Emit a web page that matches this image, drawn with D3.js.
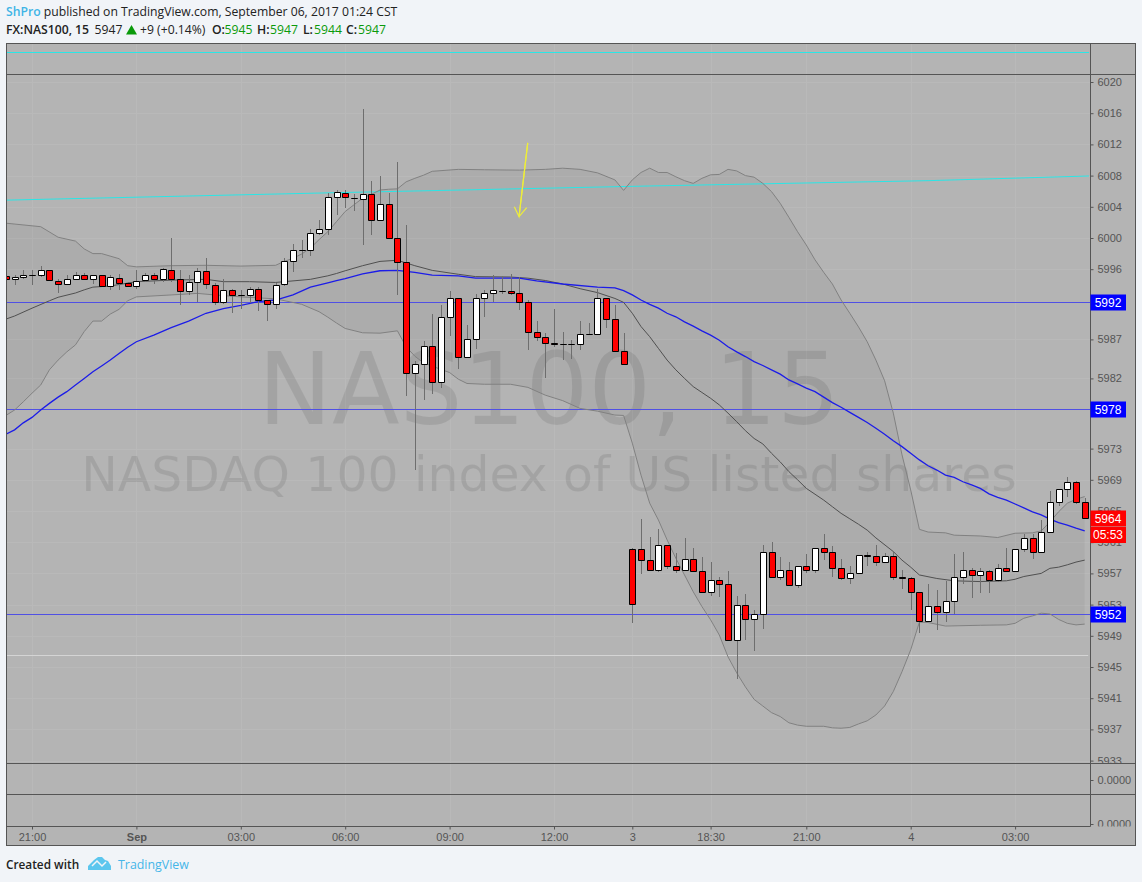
<html lang="en">
<head>
<meta http-equiv="Content-Type" content="text/html; charset=UTF-8">
<title>NAS100, 15</title>
<script type="text/javascript" src="https://cdnjs.cloudflare.com/ajax/libs/d3/7.8.5/d3.min.js"></script>
<style type="text/css">
html, body { margin: 0; padding: 0; background: #f1f4f8; overflow: hidden; }
svg { display: block; }
.tick text { font-family: "Liberation Sans", Arial, sans-serif; font-size: 11px; fill: #555; }
.tick line { stroke: #555; }
</style>
</head>
<body>

<script type="text/javascript">

var opens = [5995.1,5994.7,5995.0,5995.3,5995.2,5995.9,5994.5,5994.1,5994.8,5995.2,
5994.7,5995.2,5993.8,5994.9,5994.2,5993.8,5994.6,5995.3,5994.8,5995.9,
5994.8,5993.2,5994.3,5995.8,5994.0,5991.8,5993.3,5992.7,5992.7,5993.5,
5992.0,5991.6,5994.1,5997.0,5998.5,5998.5,6000.6,6001.2,6005.2,6005.8,
6005.1,6005.0,6005.7,6002.3,6004.4,6000.0,5996.9,5982.7,5983.8,5986.2,
5981.5,5989.9,5992.3,5984.7,5987.1,5992.3,5992.9,5993.2,5993.2,5992.9,
5991.8,5987.9,5987.3,5986.6,5986.4,5986.4,5986.4,5987.7,5987.7,5992.3,
5989.6,5985.5,5960.1,5960.1,5958.7,5957.5,5960.6,5958.0,5957.4,5958.8,
5957.3,5954.6,5956.1,5955.6,5948.5,5953.0,5951.1,5951.75,5959.7,5956.6,
5957.4,5955.5,5958.0,5957.5,5960.2,5959.8,5957.65,5956.4,5957.1,5959.4,
5959.2,5958.5,5959.2,5956.6,5956.4,5954.6,5950.9,5952.8,5952.1,5953.5,
5956.6,5957.4,5956.75,5957.3,5956.2,5957.65,5957.3,5960.1,5961.5,5959.7,
5962.3,5966.1,5967.8,5968.7,5966.1];

var closes = [5994.7,5995.0,5995.3,5995.3,5995.9,5994.6,5994.1,5994.8,5995.2,5994.7,
5995.2,5993.8,5995.0,5994.2,5993.8,5994.5,5995.3,5994.8,5996.0,5994.8,
5993.2,5994.3,5995.8,5994.1,5991.8,5993.3,5992.7,5992.7,5993.5,5992.0,
5991.6,5994.0,5997.0,5998.5,5998.5,6000.6,6001.2,6005.2,6005.9,6005.2,
6005.1,6005.7,6002.3,6004.4,6000.0,5996.9,5982.7,5983.8,5986.2,5981.5,
5989.9,5992.3,5984.7,5987.1,5992.3,5992.9,5993.3,5993.2,5992.9,5991.75,
5987.9,5987.3,5986.6,5986.4,5986.4,5986.4,5987.7,5987.7,5992.3,5989.6,
5985.5,5983.9,5953.1,5958.7,5957.5,5960.6,5958.0,5957.4,5958.8,5957.3,
5954.6,5956.1,5955.6,5948.5,5953.0,5951.1,5951.75,5959.7,5956.6,5957.4,
5955.5,5958.0,5957.5,5960.2,5959.8,5957.65,5956.4,5957.1,5959.4,5959.2,
5958.5,5959.2,5956.6,5956.4,5954.6,5950.9,5952.8,5952.1,5953.5,5956.6,
5957.4,5956.75,5957.3,5956.2,5957.65,5957.3,5960.1,5961.5,5959.7,5962.3,
5966.1,5967.8,5968.7,5966.1,5964.1];

var highs = [5995.2,5995.3,5995.9,5995.9,5996.4,5995.9,5994.8,5995.3,5995.6,5995.5,
5995.3,5995.3,5995.3,5995.4,5994.4,5995.9,5995.5,5995.5,5996.2,6000.0,
5995.9,5995.3,5996.1,5997.5,5994.2,5994.7,5993.5,5993.3,5993.7,5993.7,
5992.1,5994.2,5997.5,5999.2,5999.8,6001.2,6002.3,6005.8,6006.2,6006.2,
6005.7,6016.5,6007.3,6008.0,6005.8,6009.7,6001.7,5984.2,5986.8,5990.3,
5991.4,5993.2,5992.3,5988.9,5992.8,5993.3,5995.3,5995.1,5995.4,5995.0,
5992.1,5989.4,5987.8,5990.9,5987.9,5986.9,5989.4,5989.1,5993.4,5992.3,
5991.4,5987.8,5960.2,5964.0,5961.7,5962.7,5960.6,5959.6,5961.5,5960.3,
5959.1,5958.5,5956.5,5957.3,5954.1,5954.4,5952.3,5960.6,5961.0,5959.1,
5958.5,5958.0,5959.5,5960.2,5962.05,5960.5,5958.9,5957.9,5959.4,5959.7,
5960.6,5959.6,5959.8,5957.5,5956.6,5954.6,5955.6,5954.9,5956.0,5959.5,
5959.7,5957.65,5957.65,5957.5,5958.2,5960.2,5960.1,5962.05,5962.05,5963.85,
5967.6,5967.8,5969.3,5968.8,5966.7];

var lows = [5994.6,5994.0,5994.8,5994.0,5995.0,5994.6,5993.0,5994.0,5994.7,5994.6,
5994.1,5993.7,5993.3,5993.3,5993.7,5993.4,5994.4,5994.1,5994.4,5994.4,
5991.4,5992.7,5991.8,5993.5,5991.4,5991.6,5990.4,5990.9,5991.7,5990.7,
5989.3,5990.9,5993.9,5995.6,5997.5,5997.7,6000.4,6000.4,6003.0,6003.8,
6003.4,5999.1,6000.4,6002.3,6000.0,5992.7,5979.7,5970.3,5979.2,5980.0,
5980.8,5987.4,5983.2,5984.7,5985.8,5989.9,5991.8,5992.8,5992.7,5990.8,
5985.6,5986.8,5982.0,5986.0,5984.4,5984.5,5985.6,5987.7,5987.7,5988.4,
5985.5,5983.9,5950.7,5956.9,5957.5,5957.2,5957.6,5957.1,5957.4,5957.3,
5954.6,5954.1,5954.0,5948.5,5943.5,5948.5,5947.1,5949.9,5956.6,5956.2,
5955.4,5955.1,5957.0,5957.0,5958.7,5956.6,5956.1,5955.7,5957.1,5957.9,
5957.95,5958.5,5956.2,5955.0,5952.3,5949.3,5950.9,5949.7,5950.8,5951.8,
5955.6,5953.8,5954.5,5954.5,5955.9,5957.3,5957.3,5959.7,5958.8,5959.7,
5962.3,5965.7,5966.8,5965.85,5964.1];

// bollinger and moving average at these bars
var upperBars = [0,4,6,8,9,10,11,13,14,15,19,23,27,31,32,33,34,35,36,37,38,39,41,42,43,44,45,46,47,48,49,52,55,59,62,64,66,68,70,71,72,73,74,75,76,77,78,79,80,81,82,83,84,85,86,87,88,89,90,91,92,93,94,95,96,97,98,99,100,101,102,103,104,105,106,108,109,112,114,116,118,119,120,121,122,123,124];
var upperBand = [6001.9,6001.45,6000.1,5999.6,5998.6,5998.0,5998.0,5997.35,5996.45,5996.3,5996.45,5996.5,5996.4,5996.5,5997.0,5997.4,5997.95,5998.7,5999.8,6000.8,6002.1,6003.4,6005.1,6005.6,6006.15,6006.25,6006.3,6007.2,6007.65,6008.05,6008.55,6008.8,6008.75,6008.7,6008.8,6008.95,6008.8,6008.35,6007.45,6006.1,6007.45,6008.4,6008.95,6008.4,6008.4,6007.85,6007.35,6007.0,6007.65,6008.1,6008.15,6008.8,6008.6,6008.0,6007.8,6007.0,6005.95,6004.45,6002.65,6000.8,5999.1,5997.2,5995.6,5994.1,5992.05,5990.35,5988.6,5986.7,5984.35,5981.7,5977.55,5972.2,5967.7,5962.65,5962.3,5962.2,5961.9,5961.8,5961.6,5962.15,5962.2,5962.45,5963.6,5964.9,5966.0,5966.5,5966.85];

var lowerBars = [0,1,2,3,4,5,6,7,8,9,10,11,12,13,14,15,19,22,24,27,31,34,36,37,38,39,41,43,45,46,47,48,50,51,52,53,55,58,60,62,64,66,68,70,71,72,73,74,75,76,77,78,79,80,81,82,83,84,85,86,87,88,89,90,91,92,94,95,96,97,98,99,100,101,102,103,104,105,106,108,112,115,116,117,118,119,120,121,122,123,124];
var lowerBand = [5977.25,5977.95,5979.0,5980.1,5981.15,5983.1,5984.35,5985.4,5986.3,5988.0,5989.35,5989.35,5990.25,5990.85,5991.95,5992.45,5992.7,5992.9,5992.7,5992.45,5992.2,5991.5,5990.55,5989.85,5989.1,5988.4,5987.85,5987.8,5988.1,5986.05,5984.85,5984.0,5983.15,5982.75,5981.9,5981.35,5981.25,5981.25,5980.85,5979.85,5979.15,5978.15,5977.8,5977.3,5977.25,5973.7,5969.6,5966.0,5963.85,5961.3,5958.95,5956.8,5954.65,5952.75,5951.05,5949.1,5946.3,5944.25,5942.45,5940.85,5940.0,5939.15,5938.65,5937.85,5937.55,5937.4,5937.4,5937.2,5937.15,5937.25,5937.7,5938.1,5938.85,5940.0,5941.85,5944.4,5947.2,5950.75,5950.7,5950.25,5950.35,5950.4,5950.6,5951.25,5951.55,5951.9,5951.8,5951.1,5950.6,5950.4,5950.5];

var midBars = [0,1,3,5,6,8,9,10,12,15,19,23,25,28,31,33,35,37,38,39,41,43,45,47,49,52,54,58,60,62,64,66,68,70,71,72,73,74,75,76,77,78,79,80,81,82,83,84,85,86,87,88,89,90,91,92,93,94,95,96,97,98,99,100,102,103,104,105,107,109,112,115,116,117,119,120,121,122,123,124];
var midBand = [5989.6,5990.0,5991.0,5991.95,5992.4,5992.95,5993.35,5993.7,5993.85,5994.4,5994.6,5994.7,5994.4,5994.4,5994.3,5994.5,5994.7,5995.15,5995.45,5995.8,5996.45,5997.0,5997.15,5996.45,5995.85,5995.35,5995.05,5995.0,5994.85,5994.55,5994.1,5993.5,5993.0,5992.25,5991.75,5990.35,5988.65,5987.35,5985.85,5984.35,5983.1,5982.0,5980.95,5980.2,5979.45,5978.6,5977.55,5976.45,5975.3,5974.3,5973.6,5972.4,5971.3,5970.05,5969.0,5967.9,5967.15,5966.4,5965.55,5964.7,5964.0,5963.3,5962.55,5961.55,5959.8,5958.7,5957.8,5956.8,5956.35,5956.05,5955.95,5956.05,5956.25,5956.6,5957.0,5957.65,5957.8,5958.1,5958.45,5958.7];

var blueBars = [0,1,2,3,4,5,6,7,8,9,10,11,12,13,14,15,17,19,21,23,25,27,29,31,33,35,37,38,39,41,43,45,47,49,52,54,59,61,64,68,70,71,72,73,74,75,76,77,78,79,80,81,82,83,84,85,86,87,88,89,90,91,92,93,94,95,96,97,98,99,100,101,102,103,104,105,106,107,108,109,110,111,112,113,114,115,116,117,118,119,120,121,122,123,124];
var blueLine = [5974.85,5975.4,5976.3,5977.0,5977.95,5978.8,5979.6,5980.3,5981.15,5982.0,5982.85,5983.6,5984.35,5985.2,5986.0,5986.7,5987.55,5988.5,5989.35,5990.35,5990.95,5991.35,5991.85,5992.05,5992.7,5993.7,5994.25,5994.55,5994.8,5995.4,5995.8,5995.85,5995.6,5995.25,5995.15,5994.85,5994.85,5994.5,5994.1,5993.7,5993.6,5993.25,5992.7,5992.05,5991.5,5991.0,5990.35,5989.9,5989.25,5988.7,5988.1,5987.55,5986.9,5986.05,5985.4,5984.8,5984.15,5983.65,5983.1,5982.55,5981.8,5981.3,5980.75,5980.3,5979.6,5978.9,5978.3,5977.65,5977.0,5976.35,5975.6,5974.85,5974.0,5973.25,5972.4,5971.55,5970.8,5970.25,5969.6,5969.3,5968.75,5968.35,5967.9,5967.2,5966.75,5966.4,5965.9,5965.4,5964.9,5964.5,5963.95,5963.5,5963.2,5962.8,5962.45];

var cyanBars = [-0.1,37.5,74,106,124.5];
var cyanLine = [6004.85,6005.8,6006.67,6007.35,6007.95];
var topCyanLevel = 6023.85;

var blueLevels = [5991.8,5978.1,5951.8];
var whiteLevel = 5946.55;
var lastPrice = 5964.1;
var countdown = "05:53";

var priceTicks = [6020,6016,6012,6008,6004,6000,5996,5987,5982,5973,5969,5965,5961,5957,5953,5949,5945,5941,5937,5933];
var timeBars = [3,15,27,39,51,63,72,81,92,104,116];
var timeLabels = ["21:00","Sep","03:00","06:00","09:00","12:00","3","18:30","21:00","4","03:00"];
var lowerPaneTicks = [780,824];
var lowerPaneLabels = ["0.0000","0.0000"];

var arrowBars = [59.98,58.98,58.44,58.98,59.86];
var arrowPrices = [6012.2,6002.73,6004.0,6002.73,6003.9];

var svg = d3.select("body").append("svg")
    .attr("width", 1142)
    .attr("height", 882)
    .style("font-family", "'Liberation Sans', Arial, sans-serif");

var left = 6.5, right = 1135.5, axisX = 1090.5, top_ = 43.5, bottom = 845.5;
var pane1 = 74.5, pane2 = 763.5, pane3 = 794.5, timeY = 826.5;

var x = d3.scaleLinear().domain([0, 124]).range([5.9, 1084.7]);
var y = d3.scaleLinear().domain([6020, 5933]).range([82, 760.6]);

var defs = svg.append("defs");
defs.append("clipPath").attr("id", "plot").append("rect")
    .attr("x", left).attr("y", top_).attr("width", axisX - left).attr("height", pane2 - top_);
defs.append("clipPath").attr("id", "paxis").append("rect")
    .attr("x", axisX).attr("y", pane1).attr("width", right - axisX).attr("height", pane2 - pane1);
defs.append("clipPath").attr("id", "laxis").append("rect")
    .attr("x", axisX).attr("y", pane2).attr("width", right - axisX).attr("height", timeY - pane2);

// panel background
svg.append("rect").attr("x", left).attr("y", top_)
    .attr("width", right - left).attr("height", bottom - top_)
    .attr("fill", "#b4b4b4");

// faint grid
var grid = svg.append("g").attr("stroke", "#b9b9b9").attr("stroke-width", 1);
grid.selectAll("line.v").data(timeBars).enter().append("line").attr("class", "v")
    .attr("x1", function(d){ return Math.round(x(d)) + 0.5; })
    .attr("x2", function(d){ return Math.round(x(d)) + 0.5; })
    .attr("y1", top_).attr("y2", timeY);
grid.selectAll("line.h").data(priceTicks).enter().append("line").attr("class", "h")
    .attr("x1", left).attr("x2", axisX)
    .attr("y1", function(d){ return Math.round(y(d)) + 0.5; })
    .attr("y2", function(d){ return Math.round(y(d)) + 0.5; });

// watermark
svg.append("text").attr("x", 549).attr("y", 424).attr("text-anchor", "middle")
    .attr("font-family", "'DejaVu Sans'").attr("font-size", 98.9)
    .attr("fill", "#000").attr("fill-opacity", 0.09).text("NAS100, 15");
svg.append("text").attr("x", 549).attr("y", 491).attr("text-anchor", "middle")
    .attr("font-family", "'DejaVu Sans'").attr("font-size", 48.8)
    .attr("fill", "#000").attr("fill-opacity", 0.09).text("NASDAQ 100 index of US listed shares");

var plot = svg.append("g").attr("clip-path", "url(#plot)");

var line = d3.line().x(function(d){ return x(d[0]); }).y(function(d){ return y(d[1]); });

var upperPts = upperBars.map(function(b, i){ return [b, upperBand[i]]; });
var lowerPts = lowerBars.map(function(b, i){ return [b, lowerBand[i]]; });
var midPts = midBars.map(function(b, i){ return [b, midBand[i]]; });
var bluePts = blueBars.map(function(b, i){ return [b, blueLine[i]]; });
var cyanPts = cyanBars.map(function(b, i){ return [b, cyanLine[i]]; });

// band fill
plot.append("path")
    .attr("d", line(upperPts.concat(lowerPts.slice().reverse())) + "Z")
    .attr("fill", "#000").attr("fill-opacity", 0.04);

// level lines
plot.selectAll("line.level").data(blueLevels).enter().append("line").attr("class", "level")
    .attr("x1", left).attr("x2", axisX)
    .attr("y1", function(d){ return Math.round(y(d)) + 0.5; })
    .attr("y2", function(d){ return Math.round(y(d)) + 0.5; })
    .attr("stroke", "#5050e4").attr("stroke-width", 1);
plot.append("line").attr("x1", left).attr("x2", x(124.4))
    .attr("y1", Math.round(y(whiteLevel)) + 0.5).attr("y2", Math.round(y(whiteLevel)) + 0.5)
    .attr("stroke", "#d4d4d4").attr("stroke-width", 1);

// cyan lines
plot.append("line").attr("x1", x(0.1)).attr("x2", x(124.5))
    .attr("y1", Math.round(y(topCyanLevel)) + 0.5).attr("y2", Math.round(y(topCyanLevel)) + 0.5)
    .attr("stroke", "#2ae6e6").attr("stroke-width", 1);
plot.append("path").attr("d", line(cyanPts)).attr("fill", "none")
    .attr("stroke", "#2ae6e6").attr("stroke-width", 1);

// band lines
plot.append("path").attr("d", line(upperPts)).attr("fill", "none").attr("stroke", "#818181").attr("stroke-width", 1);
plot.append("path").attr("d", line(lowerPts)).attr("fill", "none").attr("stroke", "#818181").attr("stroke-width", 1);
plot.append("path").attr("d", line(midPts)).attr("fill", "none").attr("stroke", "#505050").attr("stroke-width", 1);

// moving average
plot.append("path").attr("d", line(bluePts)).attr("fill", "none").attr("stroke", "#1c1ce8").attr("stroke-width", 1.3);

// candles
var candles = plot.append("g");
candles.selectAll("line.wick").data(opens).enter().append("line").attr("class", "wick")
    .attr("x1", function(d, i){ return Math.round(x(i)) + 0.5; })
    .attr("x2", function(d, i){ return Math.round(x(i)) + 0.5; })
    .attr("y1", function(d, i){ return Math.round(y(highs[i])); })
    .attr("y2", function(d, i){ return Math.round(y(lows[i])); })
    .attr("stroke", "#6e6e6e").attr("stroke-width", 1);

// bodies as paths so that open == close still shows as a flat black dash
candles.selectAll("path.body").data(opens).enter().append("path").attr("class", "body")
    .attr("d", function(d, i){
        var bx = Math.round(x(i)) - 2.5;
        var t = Math.round(y(Math.max(d, closes[i]))) + 0.5;
        var b = Math.round(y(Math.min(d, closes[i]))) + 0.5;
        return "M" + bx + "," + t + "H" + (bx + 6) + "V" + b + "H" + bx + "Z";
    })
    .attr("fill", function(d, i){ return closes[i] > d ? "#ffffff" : "#ff0000"; })
    .attr("stroke", "#000").attr("stroke-width", 1);

// arrow drawn on the chart
plot.append("path")
    .attr("d", line(arrowBars.map(function(b, i){ return [b, arrowPrices[i]]; })))
    .attr("fill", "none").attr("stroke", "#eded3a").attr("stroke-width", 1.2);
plot.append("path")
    .attr("d", line([[arrowBars[0], arrowPrices[0]], [arrowBars[1], arrowPrices[1]]]))
    .attr("fill", "none").attr("stroke", "#eded3a").attr("stroke-width", 1.2);

// frame
var frame = svg.append("g").attr("stroke", "#555").attr("stroke-width", 1).attr("fill", "none");
frame.append("rect").attr("x", left).attr("y", top_).attr("width", right - left).attr("height", bottom - top_);
frame.append("line").attr("x1", axisX).attr("x2", axisX).attr("y1", top_).attr("y2", timeY);
[pane1, pane2, pane3].forEach(function(p){
    frame.append("line").attr("x1", left).attr("x2", right).attr("y1", p).attr("y2", p);
});
frame.append("line").attr("x1", left).attr("x2", axisX).attr("y1", timeY).attr("y2", timeY);

// price axis
var priceAxis = d3.axisRight(y).tickValues(priceTicks).tickSize(3).tickPadding(4)
    .tickFormat(d3.format("d"));
var pa = svg.append("g").attr("transform", "translate(" + axisX + ",0)").call(priceAxis);
pa.select(".domain").remove();
svg.append("g").attr("clip-path", "url(#paxis)").node().appendChild(pa.node());

// lower pane axis, same style
var lowerScale = d3.scaleIdentity().domain([pane2, timeY]);
var la = d3.axisRight(lowerScale).tickValues(lowerPaneTicks).tickSize(3).tickPadding(4)
    .tickFormat(function(d, i){ return lowerPaneLabels[i]; });
var lg = svg.append("g").attr("transform", "translate(" + axisX + ",0)").call(la);
lg.select(".domain").remove();
svg.append("g").attr("clip-path", "url(#laxis)").node().appendChild(lg.node());

// time axis
var timeAxis = d3.axisBottom(x).tickValues(timeBars).tickSize(3).tickPadding(4)
    .tickFormat(function(d, i){ return timeLabels[i]; });
var ta = svg.append("g").attr("transform", "translate(0," + timeY + ")").call(timeAxis);
ta.select(".domain").remove();
ta.selectAll(".tick text").attr("font-weight", function(d, i){ return timeLabels[i] == "Sep" ? "bold" : null; });

// price labels on the axis
function axisLabel(price, color, txt, yTop, h) {
    var yc = yTop == null ? Math.round(y(price)) : yTop;
    var top = yTop == null ? yc - 7.5 : yTop;
    var g = svg.append("g");
    g.append("rect").attr("x", axisX).attr("y", top).attr("width", 35.5).attr("height", h)
        .attr("fill", color);
    g.append("text").attr("x", axisX + 17.5).attr("y", top + h / 2 + 4)
        .attr("text-anchor", "middle").attr("font-size", 12).attr("fill", "#fff").text(txt);
}
blueLevels.forEach(function(v){ axisLabel(v, "#0000ff", d3.format("d")(Math.round(v)), null, 16); });
axisLabel(lastPrice, "#ff0000", d3.format("d")(Math.round(lastPrice)), null, 16);
axisLabel(lastPrice, "#ff0000", countdown, Math.round(y(lastPrice)) + 9, 16);

// header
var head = "'Open Sans', 'Noto Sans', sans-serif";
var t1 = svg.append("text").attr("x", 6).attr("y", 16).attr("font-family", head).attr("font-size", 12.2).attr("fill", "#222");
t1.append("tspan").attr("fill", "#3fb4e6").attr("font-weight", 600).text("ShPro");
t1.append("tspan").text(" published on TradingView.com, September 06, 2017 01:24 CST");

var headerParts = [
    [6, "FX:NAS100, 15", "#222", 600],
    [94.5, "5947", "#222", 400],
    [140, "+9 (+0.14%)", "#222", 400],
    [212, "O:", "#222", 600],
    [224.5, "5945", "#0a9a0a", 400],
    [257, "H:", "#222", 600],
    [270, "5947", "#0a9a0a", 400],
    [303, "L:", "#222", 600],
    [314, "5944", "#0a9a0a", 400],
    [346, "C:", "#222", 600],
    [358, "5947", "#0a9a0a", 400]
];
svg.selectAll("text.hd").data(headerParts).enter().append("text").attr("class", "hd")
    .attr("x", function(d){ return d[0]; }).attr("y", 34)
    .attr("font-family", head).attr("font-size", 12.2)
    .attr("fill", function(d){ return d[2]; })
    .attr("font-weight", function(d){ return d[3]; })
    .text(function(d){ return d[1]; });
svg.append("path").attr("d", "M126,34.5L131.5,25L137,34.5Z").attr("fill", "#0a9a0a");

// footer
svg.append("text").attr("x", 6).attr("y", 869).attr("font-family", head)
    .attr("font-size", 11.8).attr("font-weight", 600).attr("fill", "#222").text("Created with");
svg.append("text").attr("x", 118).attr("y", 869).attr("font-family", head)
    .attr("font-size", 12.4).attr("fill", "#45b6e8").text("TradingView");
svg.append("path")
    .attr("d", "M88,866L94,860L98,857L102,857L105,860L108,861L111,866L111,870L88,870Z")
    .attr("fill", "#5cc6ee");
svg.append("path")
    .attr("d", "M92,866L97,861L102,866L106,862")
    .attr("fill", "none").attr("stroke", "#f1f4f8").attr("stroke-width", 1.5);

</script>

</body>
</html>
